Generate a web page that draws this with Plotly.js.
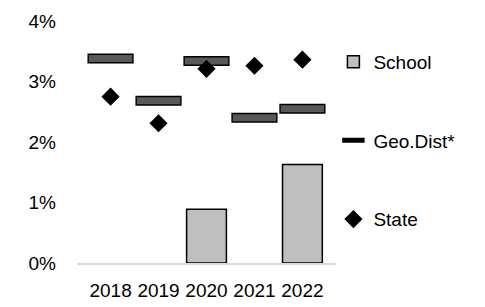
<!DOCTYPE html>
<html><head><meta charset="utf-8">
<script src="https://cdn.plot.ly/plotly-3.0.1.min.js"></script>
<style>html,body{margin:0;padding:0;background:#fff;}#chart{width:485px;height:307px;}</style>
</head><body><div id="chart"></div>
<script>
const years = ['2018','2019','2020','2021','2022'];
const school = [null, null, 0.89, null, 1.63];
const geoDist = [3.38, 2.68, 3.34, 2.40, 2.55];
const state = [2.75, 2.31, 3.21, 3.26, 3.36];
const yTickVals = [0, 1, 2, 3, 4];
const yTickText = ['0%', '1%', '2%', '3%', '4%'];

const FONT = '"Liberation Sans Narrow", "Arial Narrow", "Liberation Sans", Arial, sans-serif';

const traces = [
  {type:'bar', name:'School', x:years, y:school, legendgroup:'a',
   marker:{color:'#bfbfbf', line:{color:'#000', width:1.5}}, width:0.83},
  {type:'scatter', mode:'markers', name:'Geo.Dist*', x:years, y:geoDist, legendgroup:'b',
   marker:{symbol:'line-ew', size:33, line:{color:'#000', width:10}}},
  {type:'scatter', mode:'markers', name:'Geo.Dist*', x:years, y:geoDist, legendgroup:'b', showlegend:false,
   marker:{symbol:'line-ew', size:31, line:{color:'#595959', width:7}}},
  {type:'scatter', mode:'markers', name:'State', x:years, y:state, legendgroup:'c',
   marker:{symbol:'diamond', size:14, color:'#000', line:{width:0}}}
];

const layout = {
  width:485, height:307,
  margin:{l:77, r:149, t:21, b:44},
  paper_bgcolor:'#fff', plot_bgcolor:'#fff',
  font:{family:FONT, size:19, color:'#000'},
  barmode:'overlay',
  showlegend:true,
  legend:{x:0.99, xanchor:'left', y:0.91, yanchor:'top', traceorder:'grouped', tracegroupgap:51,
          font:{family:FONT, size:19, color:'#000'}, bgcolor:'rgba(0,0,0,0)'},
  xaxis:{type:'category', showgrid:false, zeroline:false, showline:true, linecolor:'#d9d9d9', linewidth:1.5,
         ticks:'', tickangle:0, tickfont:{family:FONT, size:19}, ticklabelstandoff:10},
  yaxis:{range:[0,4], tickvals:yTickVals, ticktext:yTickText, showgrid:false, zeroline:false, showline:false,
         ticks:'', tickfont:{family:FONT, size:19}, ticklabelstandoff:20}
};

Plotly.newPlot('chart', traces, layout, {displayModeBar:false, staticPlot:true});
</script>
</body></html>
